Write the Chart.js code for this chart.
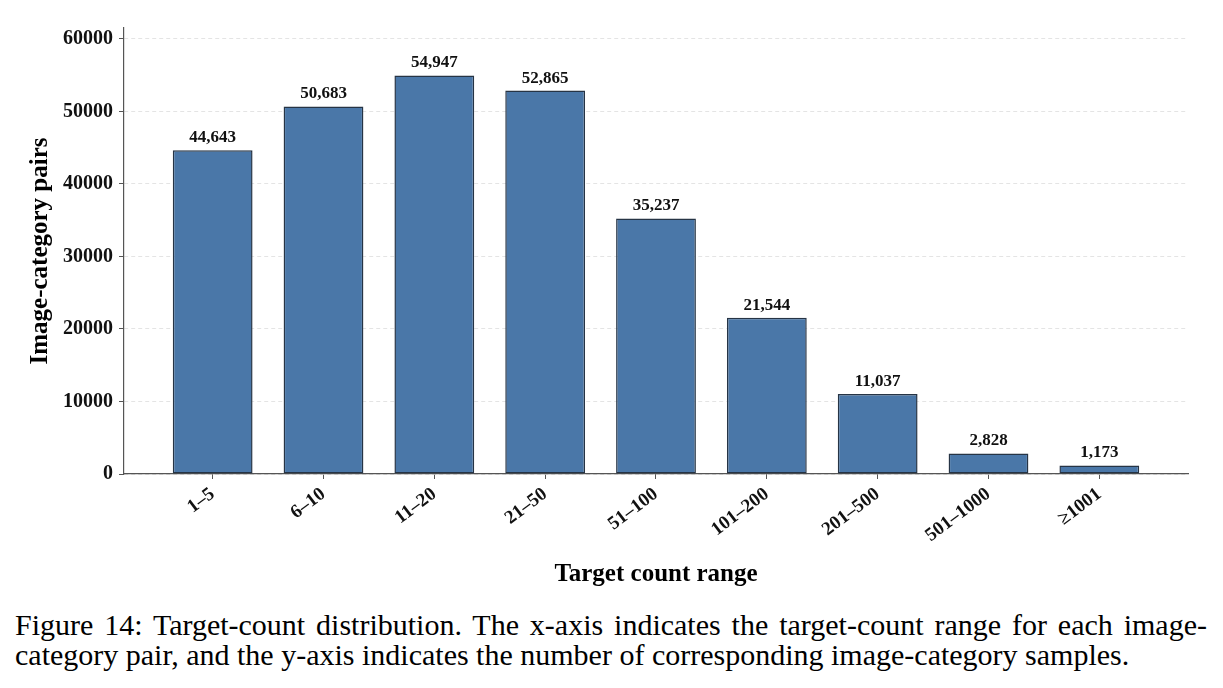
<!DOCTYPE html>
<html>
<head>
<meta charset="utf-8">
<script src="https://cdn.jsdelivr.net/npm/chart.js@4.4.1/dist/chart.umd.min.js"></script>
<style>
  body { margin: 0; background: #fff; width: 1223px; height: 688px; overflow: hidden; }
  #wrap { position: relative; width: 1223px; height: 590px; }
  .caption { font-family: "Liberation Serif", serif; font-size: 30px; line-height: 30px; color: #000; margin: 20px 0 0 15px; width: 1192px; }
  .caption .l1 { text-align: justify; text-align-last: justify; }
</style>
</head>
<body>
<div id="wrap"><canvas id="chart"></canvas></div>
<div class="caption">
  <div class="l1">Figure 14: Target-count distribution. The x-axis indicates the target-count range for each image-</div>
  <div>category pair, and the y-axis indicates the number of corresponding image-category samples.</div>
</div>
<script>
const ranges = ['1–5', '6–10', '11–20', '21–50', '51–100', '101–200', '201–500', '501–1000', '≥1001'];
const pairCounts = [44643, 50683, 54947, 52865, 35237, 21544, 11037, 2828, 1173];
const yTicks = [0, 10000, 20000, 30000, 40000, 50000, 60000];

const serif = '"Liberation Serif", "Times New Roman", serif';
const axisColor = '#555555';

// value labels on top of each bar
const barLabels = {
  id: 'barLabels',
  afterDatasetsDraw(chart) {
    const ctx = chart.ctx;
    const meta = chart.getDatasetMeta(0);
    ctx.save();
    ctx.font = 'bold 17px ' + serif;
    ctx.fillStyle = '#111';
    ctx.textAlign = 'center';
    ctx.textBaseline = 'bottom';
    meta.data.forEach((bar, i) => {
      ctx.fillText(pairCounts[i].toLocaleString('en-US'), bar.x, bar.y - 4);
    });
    ctx.restore();
  }
};

const ctx = document.getElementById('chart').getContext('2d');
new Chart(ctx, {
  type: 'bar',
  data: {
    datasets: [{
      data: pairCounts.map((v, i) => ({ x: i, y: v })),
      backgroundColor: '#4a77a8',
      borderColor: '#263445',
      borderWidth: 1.5,
      borderSkipped: false,
      barPercentage: 0.9,
      categoryPercentage: 0.8
    }]
  },
  options: {
    responsive: true,
    maintainAspectRatio: false,
    animation: false,
    layout: { padding: { top: 28, right: 35, left: 0, bottom: 0 } },
    plugins: { legend: { display: false }, tooltip: { enabled: false } },
    scales: {
      x: {
        type: 'linear',
        min: -0.8,
        max: 8.8,
        bounds: 'data',
        offset: false,
        afterBuildTicks: (s) => { s.ticks = ranges.map((r, i) => ({ value: i })); },
        afterFit: (s) => { s.height = 116; },
        grid: { display: true, offset: false, drawOnChartArea: false, drawTicks: true, tickLength: 5, tickColor: axisColor, tickWidth: 1 },
        border: { display: true, color: axisColor, width: 1.2 },
        ticks: {
          autoSkip: false,
          maxRotation: 37,
          minRotation: 37,
          padding: 4,
          color: '#111',
          font: { family: serif, size: 19, weight: 'bold' },
          callback: (v) => ranges[v] ?? ''
        },
        title: {
          display: true,
          text: 'Target count range',
          color: '#000',
          font: { family: serif, size: 25, weight: 'bold' },
          padding: { top: 9, bottom: 0 }
        }
      },
      y: {
        min: 0,
        max: 61500,
        bounds: 'data',
        afterBuildTicks: (s) => { s.ticks = yTicks.map((v) => ({ value: v })); },
        afterFit: (s) => { s.width = 124; },
        grid: { color: '#dddddd', lineWidth: 0.8, drawTicks: true, tickLength: 5, tickColor: axisColor, tickWidth: 1 },
        border: { display: true, color: axisColor, width: 1.2, dash: [4, 3] },
        ticks: {
          padding: 6,
          color: '#111',
          font: { family: serif, size: 20, weight: 'bold' },
          callback: (v) => String(v)
        },
        title: {
          display: true,
          text: 'Image-category pairs',
          color: '#000',
          font: { family: serif, size: 25, weight: 'bold' },
          padding: { top: 26, bottom: 0 }
        }
      }
    }
  },
  plugins: [barLabels]
});
</script>
</body>
</html>
